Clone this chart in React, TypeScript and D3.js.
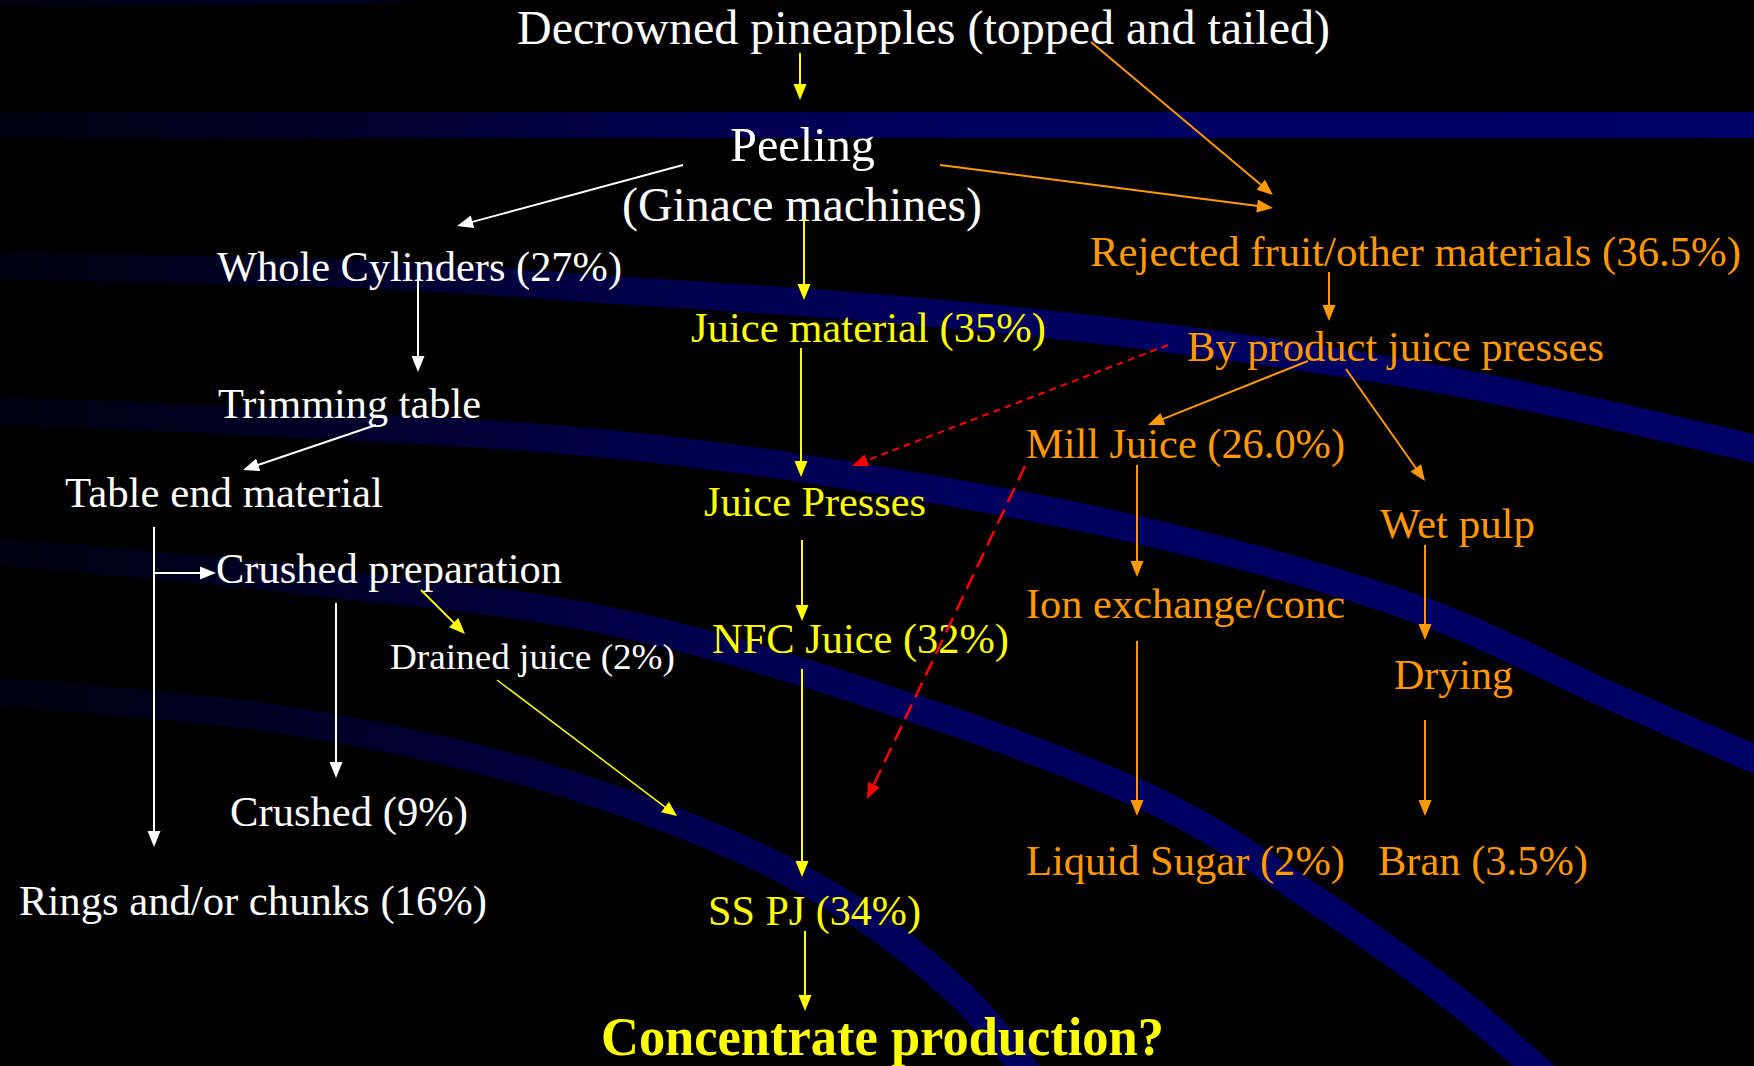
import React from 'react';
import * as d3 from 'd3';

// ---- Diagram content ----
const nodeIds = [
  'decrowned', 'peeling', 'ginace', 'whole', 'juiceMat', 'rejected', 'byproduct',
  'trimming', 'mill', 'tableEnd', 'presses', 'wetPulp', 'crushedPrep', 'ion',
  'nfc', 'drained', 'drying', 'crushed', 'liquidSugar', 'bran', 'rings', 'sspj', 'concentrate',
];
const nodeLabels = [
  'Decrowned pineapples (topped and tailed)', 'Peeling', '(Ginace machines)',
  'Whole Cylinders (27%)', 'Juice material (35%)', 'Rejected fruit/other materials (36.5%)',
  'By product juice presses', 'Trimming table', 'Mill Juice (26.0%)', 'Table end material',
  'Juice Presses', 'Wet pulp', 'Crushed preparation', 'Ion exchange/conc', 'NFC Juice (32%)',
  'Drained juice (2%)', 'Drying', 'Crushed (9%)', 'Liquid Sugar (2%)', 'Bran (3.5%)',
  'Rings and/or chunks (16%)', 'SS PJ (34%)', 'Concentrate production?',
];
const nodeTones = [
  'white', 'white', 'white', 'white', 'yellow', 'orange', 'orange', 'white', 'orange', 'white',
  'yellow', 'orange', 'white', 'orange', 'yellow', 'white', 'orange', 'white', 'orange', 'orange',
  'white', 'yellow', 'yellow',
];

// flows: from, to, tone, line style
const linkFrom = ['decrowned', 'decrowned', 'peeling', 'peeling', 'peeling', 'whole', 'trimming', 'juiceMat', 'rejected', 'byproduct', 'byproduct', 'byproduct', 'tableEnd', 'tableEnd', 'presses', 'mill', 'mill', 'crushedPrep', 'crushedPrep', 'wetPulp', 'nfc', 'drained', 'ion', 'drying', 'sspj'];
const linkTo = ['peeling', 'rejected', 'whole', 'juiceMat', 'rejected', 'trimming', 'tableEnd', 'presses', 'byproduct', 'presses', 'mill', 'wetPulp', 'rings', 'crushedPrep', 'nfc', 'ion', 'sspj', 'drained', 'crushed', 'drying', 'sspj', 'sspj', 'liquidSugar', 'bran', 'concentrate'];
const linkTones = ['yellow', 'orange', 'white', 'yellow', 'orange', 'white', 'white', 'yellow', 'orange', 'red', 'orange', 'orange', 'white', 'white', 'yellow', 'orange', 'red', 'yellow', 'white', 'orange', 'yellow', 'yellow', 'orange', 'orange', 'yellow'];
const linkStyles = ['solid', 'solid', 'solid', 'solid', 'solid', 'solid', 'solid', 'solid', 'solid', 'shortDash', 'solid', 'solid', 'solid', 'solid', 'solid', 'solid', 'longDash', 'solid', 'solid', 'solid', 'solid', 'thin', 'solid', 'solid', 'solid'];

// ---- Layout (pixel geometry) ----
const W = 1754;
const H = 1066;
// [left x, baseline y, right x, font size]
const nodeLayout: Record<string, [number, number, number, number]> = {
  decrowned: [517, 44, 1330, 48],
  peeling: [730, 161, 875, 48],
  ginace: [622, 221, 982, 48],
  whole: [217, 281, 622, 42.5],
  juiceMat: [691, 342, 1046, 42.5],
  rejected: [1090, 266, 1741, 42.5],
  byproduct: [1187, 361, 1604, 42.5],
  trimming: [218, 418, 481, 42.5],
  mill: [1026, 458, 1345, 42.5],
  tableEnd: [65, 507, 383, 42.5],
  presses: [704, 516, 926, 42.5],
  wetPulp: [1380, 538, 1535, 42.5],
  crushedPrep: [216, 583, 562, 42.5],
  ion: [1026, 618, 1345, 42.5],
  nfc: [712, 653, 1009, 42.5],
  drained: [390, 669, 675, 35],
  drying: [1394, 689, 1513, 42.5],
  crushed: [230, 826, 468, 42.5],
  liquidSugar: [1026, 875, 1345, 42.5],
  bran: [1378, 875, 1588, 42.5],
  rings: [19, 915, 487, 42.5],
  sspj: [708, 925, 921, 42.5],
  concentrate: [601, 1055, 1164, 54],
};
// [x1, y1, x2 (tip), y2 (tip)], same order as the links
const linkGeometry: [number, number, number, number][] = [
  [800, 53, 800, 100],
  [1091, 42, 1273, 195],
  [683, 165, 457, 226],
  [804, 219, 804, 300],
  [940, 165, 1273, 208],
  [418, 279, 418, 372],
  [376, 425, 243, 470],
  [801, 348, 801, 477],
  [1329, 272, 1329, 321],
  [1168, 345, 852, 466],
  [1308, 361, 1148, 425],
  [1346, 369, 1425, 481],
  [154, 527, 154, 847],
  [154, 573, 216, 573],
  [802, 540, 802, 621],
  [1137, 465, 1137, 577],
  [1025, 466, 867, 799],
  [421, 590, 465, 634],
  [336, 603, 336, 778],
  [1425, 545, 1425, 640],
  [802, 669, 802, 877],
  [497, 680, 677, 816],
  [1137, 641, 1137, 816],
  [1425, 720, 1425, 816],
  [805, 931, 805, 1011],
];

// decorative background bands (center lines)
const bandPaths: [number, number][][] = [
  [[-20, -9], [330, -11], [900, -40], [1800, -120]],
  [[-20, 125], [1780, 125]],
  [[-20, 265], [400, 276], [600, 289], [877, 308], [1166, 338], [1470, 385], [1780, 455]],
  [[-20, 410], [577, 441], [877, 480], [1160, 535], [1425, 612], [1613, 697], [1780, 770]],
  [[-20, 550], [300, 580], [600, 619], [877, 696], [1165, 806], [1307, 894], [1460, 1003], [1560, 1090]],
  [[-20, 691], [298, 722], [577, 787], [807, 882], [960, 994], [1040, 1090]],
];

const palette: Record<string, string> = {
  white: '#ffffff',
  yellow: '#ffff00',
  orange: '#ff9900',
  red: '#ff0000',
};

function Arrow({ g, tone, style }: { g: [number, number, number, number]; tone: string; style: string }) {
  const [x1, y1, x2, y2] = g;
  const color = palette[tone];
  const ang = Math.atan2(y2 - y1, x2 - x1);
  const L = style === 'thin' ? 15 : 16;
  const hw = 6.5;
  const cs = Math.cos(ang);
  const sn = Math.sin(ang);
  const bx = x2 - L * cs;
  const by = y2 - L * sn;
  const head: [number, number][] = [
    [x2, y2],
    [bx - hw * sn, by + hw * cs],
    [bx + hw * sn, by - hw * cs],
  ];
  const line = d3.line()([[x1, y1], [bx + 1 * cs, by + 1 * sn]]) as string;
  const dash = style === 'shortDash' ? '7 5' : style === 'longDash' ? '16 8' : undefined;
  const sw = style === 'thin' ? 1.5 : style === 'longDash' ? 2.5 : 2;
  return (
    <g>
      <path d={line} stroke={color} strokeWidth={sw} fill="none" strokeDasharray={dash} />
      <path d={(d3.line()(head) as string) + 'Z'} fill={color} stroke="none" />
    </g>
  );
}

export default function App() {
  const bandLine = d3.line().curve(d3.curveCatmullRom.alpha(0.5));
  return (
    <div style={{ position: 'fixed', left: 0, top: 0, width: W, height: H, background: '#000' }}>
      <svg width={W} height={H} viewBox={`0 0 ${W} ${H}`} style={{ display: 'block' }}>
        <defs>
          <linearGradient id="bandGrad" gradientUnits="userSpaceOnUse" x1={0} y1={0} x2={W} y2={0}>
            <stop offset="0" stopColor="#00000f" />
            <stop offset="0.2" stopColor="#00002a" />
            <stop offset="0.38" stopColor="#00004c" />
            <stop offset="0.55" stopColor="#00005e" />
            <stop offset="1" stopColor="#000066" />
          </linearGradient>
        </defs>
        <rect x={0} y={0} width={W} height={H} fill="#000" />
        {bandPaths.map((pts, i) => (
          <path key={i} d={bandLine(pts) as string} stroke="url(#bandGrad)" strokeWidth={i === 1 ? 26 : 28} fill="none" />
        ))}
        {nodeIds.map((id, i) => {
          const [x, y, r, fs] = nodeLayout[id];
          return (
            <text
              key={id}
              x={x}
              y={y}
              fontFamily="'Liberation Serif', 'Times New Roman', serif"
              fontSize={fs}
              fontWeight={id === 'concentrate' ? 'bold' : 'normal'}
              fill={palette[nodeTones[i]]}
              textLength={r - x}
              lengthAdjust="spacingAndGlyphs"
            >
              {nodeLabels[i]}
            </text>
          );
        })}
        {linkFrom.map((f, i) => (
          <Arrow key={f + linkTo[i]} g={linkGeometry[i]} tone={linkTones[i]} style={linkStyles[i]} />
        ))}
      </svg>
    </div>
  );
}
